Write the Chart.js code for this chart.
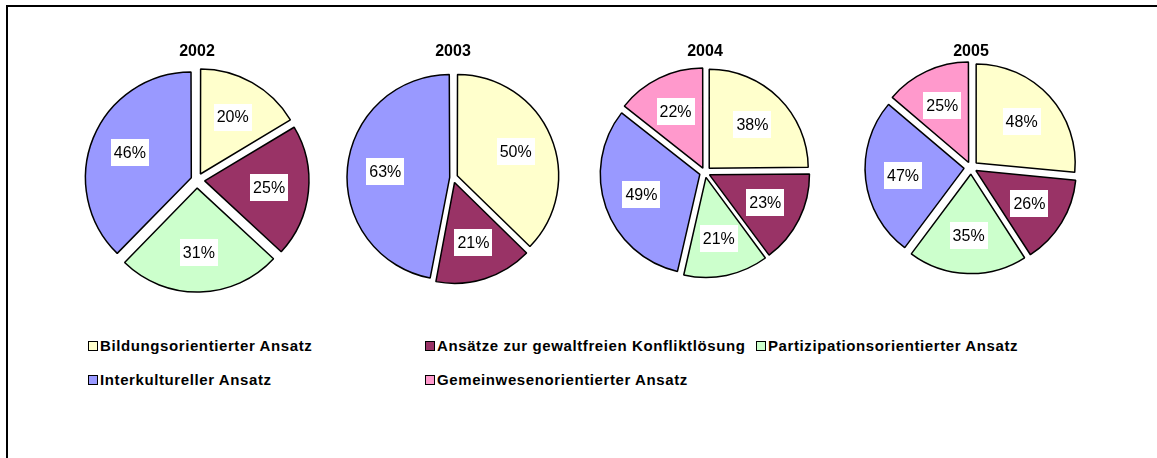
<!DOCTYPE html>
<html>
<head>
<meta charset="utf-8">
<script src="https://cdn.jsdelivr.net/npm/chart.js@4.4.1/dist/chart.umd.min.js"></script>
<style>
  body { margin: 0; background: #fff; width: 1157px; height: 458px; overflow: hidden; position: relative;
         font-family: Arial, "Liberation Sans", sans-serif; }
  #frame { position: absolute; left: 6px; top: 5px; width: 1300px; height: 600px;
           border-top: 2px solid #000; border-left: 2px solid #000; }
  canvas.pie { position: absolute; top: 39px; }
  .item { position: absolute; font-weight: bold; font-size: 15px; letter-spacing: 0.6px;
          white-space: nowrap; line-height: 16px; color: #000; }
  .item .box { display: inline-block; width: 8px; height: 8px; border: 1px solid #000;
               margin-right: 2px; vertical-align: 0px; }
</style>
</head>
<body>
<div id="frame"></div>
<canvas class="pie" id="pie0" width="250" height="290"></canvas>
<canvas class="pie" id="pie1" width="250" height="290"></canvas>
<canvas class="pie" id="pie2" width="250" height="290"></canvas>
<canvas class="pie" id="pie3" width="250" height="290"></canvas>
<div id="legend"></div>
<script>
// Daten
const years = ['2002', '2003', '2004', '2005'];
const categories = [
  'Bildungsorientierter Ansatz',
  'Ansätze zur gewaltfreien Konfliktlösung',
  'Partizipationsorientierter Ansatz',
  'Interkultureller Ansatz',
  'Gemeinwesenorientierter Ansatz'
];
const values2002 = [20, 25, 31, 46, null];
const values2003 = [50, 21, null, 63, null];
const values2004 = [38, 23, 21, 49, 22];
const values2005 = [48, 26, 35, 47, 25];
const yearValues = [values2002, values2003, values2004, values2005];

// Farben (Excel-Palette)
const colors = ['#FFFFCC', '#993366', '#CCFFCC', '#9999FF', '#FF99CC'];

// Lage der Kreise: Mittelpunkt, Radius, Explosion in Pixeln
const pieLayout = [
  { cx: 196.5, cy: 180, r: 104, off: 8 },
  { cx: 452.5, cy: 177.5, r: 100, off: 6 },
  { cx: 705, cy: 172.5, r: 99, off: 6 },
  { cx: 971, cy: 167.5, r: 99, off: 7 }
];
const canvasW = 250, canvasH = 290, canvasTop = 39;

// Legende: Spalten und Zeilen
const legendCols = [88, 425, 756];
const legendRows = [338, 372];

// Chart.js verschiebt ein Segment um offset/4 * (1 + fix); hier umgekehrt gerechnet
function arcFix(circ) {
  return 1 - Math.sin(Math.min(Math.PI, circ));
}

// Prozent-Beschriftungen mit weißem Kasten
const pctLabels = {
  id: 'pctLabels',
  afterDatasetsDraw(chart) {
    const ctx = chart.ctx;
    const meta = chart.getDatasetMeta(0);
    const ds = chart.data.datasets[0];
    ctx.save();
    ctx.font = '16px Arial, "Liberation Sans", sans-serif';
    ctx.textAlign = 'center';
    ctx.textBaseline = 'middle';
    meta.data.forEach((arc, i) => {
      const p = arc.getProps(['x', 'y', 'startAngle', 'endAngle', 'outerRadius', 'circumference'], true);
      const mid = (p.startAngle + p.endAngle) / 2;
      const shift = arc.options.offset / 4 * (1 + arcFix(p.circumference));
      const d = shift + p.outerRadius * 0.62;
      const x = p.x + Math.cos(mid) * d;
      const y = p.y + Math.sin(mid) * d;
      const txt = ds.data[i] + '%';
      const w = ctx.measureText(txt).width + 6;
      const h = 27;
      ctx.fillStyle = '#fff';
      ctx.fillRect(Math.round(x - w / 2), Math.round(y - h / 2), Math.round(w), h);
      ctx.fillStyle = '#000';
      ctx.fillText(txt, x, y + 1);
    });
    ctx.restore();
  }
};

// Kreisdiagramme erstellen
years.forEach((year, k) => {
  const vals = yearValues[k];
  const idx = vals.map((v, i) => i).filter(i => vals[i] !== null);
  const L = pieLayout[k];
  const canvas = document.getElementById('pie' + k);
  canvas.style.left = (L.cx - canvasW / 2) + 'px';
  // Chartfläche so legen, dass der Mittelpunkt stimmt
  const padBottom = (26 + canvasH) - 2 * (L.cy - canvasTop);
  new Chart(canvas.getContext('2d'), {
    type: 'pie',
    data: {
      labels: idx.map(i => categories[i]),
      datasets: [{
        data: idx.map(i => vals[i]),
        backgroundColor: idx.map(i => colors[i]),
        borderColor: '#000',
        borderWidth: 1.5,
        radius: L.r,
        offset: (c) => {
          const data = c.dataset.data;
          const total = data.reduce((a, b) => a + b, 0);
          const circ = data[c.dataIndex] / total * 2 * Math.PI;
          return L.off * 4 / (1 + arcFix(circ));
        }
      }]
    },
    options: {
      responsive: false,
      animation: false,
      layout: { padding: { bottom: padBottom } },
      plugins: {
        legend: { display: false },
        tooltip: { enabled: false },
        title: {
          display: true,
          text: year,
          color: '#000',
          font: { family: 'Arial, "Liberation Sans", sans-serif', size: 16, weight: 'bold' },
          padding: { top: 3, bottom: 4 }
        }
      }
    },
    plugins: [pctLabels]
  });
});

// Gemeinsame Legende
const legend = document.getElementById('legend');
categories.forEach((name, i) => {
  const el = document.createElement('div');
  el.className = 'item';
  el.style.left = legendCols[i % 3] + 'px';
  el.style.top = legendRows[Math.floor(i / 3)] + 'px';
  el.innerHTML = '<span class="box" style="background:' + colors[i] + '"></span>' + name;
  legend.appendChild(el);
});
</script>
</body>
</html>
